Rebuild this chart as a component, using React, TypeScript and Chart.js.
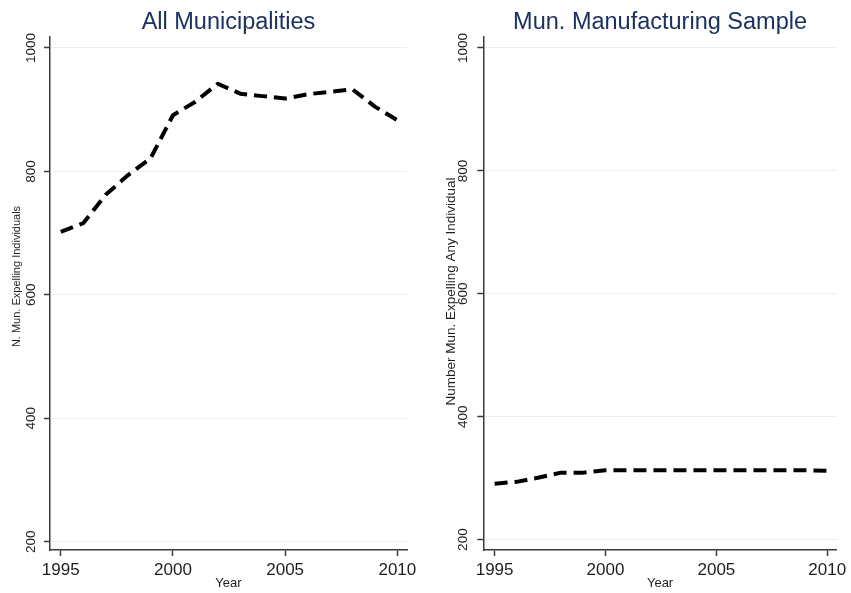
import React, { useEffect, useRef } from "react";
import { Chart, registerables } from "chart.js";

Chart.register(...registerables);

// ---- Data ----
const years = [1995, 1996, 1997, 1998, 1999, 2000, 2001, 2002, 2003, 2004, 2005, 2006, 2007, 2008, 2009, 2010];
const allMunicipalities = [702, 716, 762, 794, 821, 891, 913, 942, 926, 922, 918, 925, 929, 933, 905, 883];
const manufacturingSample = [291, 294, 301, 309, 309, 313, 313, 313, 313, 313, 313, 313, 313, 313, 313, 312];
const xTickValues = [1995, 2000, 2005, 2010];
const yTickValues = [200, 400, 600, 800, 1000];
const panelTitles = ["All Municipalities", "Mun. Manufacturing Sample"];
const yAxisTitles = ["N. Mun. Expelling Individuals", "Number Mun. Expelling Any Individual"];
const xAxisTitle = "Year";

const FONT = '"Liberation Sans", Arial, Helvetica, sans-serif';

// Rotated y-axis title and the panel title, both placed relative to the chart area.
const textPlugin = {
  id: "panelText",
  afterDraw(chart: any, _args: any, opts: any) {
    const ctx = chart.ctx;
    const area = chart.chartArea;
    ctx.save();
    // panel title, centred over the plot area
    ctx.font = `${opts.titleSize}px ${FONT}`;
    ctx.fillStyle = opts.titleColor;
    ctx.textAlign = "center";
    ctx.textBaseline = "alphabetic";
    ctx.fillText(opts.title, (area.left + area.right) / 2, opts.titleBaseline);
    // y axis title
    ctx.translate(opts.yTitleX, opts.yTitleY);
    ctx.rotate(-Math.PI / 2);
    ctx.font = `${opts.yTitleSize}px ${FONT}`;
    ctx.fillStyle = opts.yTitleColor;
    ctx.fillText(opts.yTitle, 0, 0);
    ctx.restore();
  },
};

type PanelProps = {
  title: string;
  yTitle: string;
  values: number[];
  left: number;
  width: number;
  yAxisWidth: number;
  padRight: number;
  yMin: number;
  yMax: number;
  xMin: number;
  xMax: number;
  yTickPad: number;
  yTitleX: number;
  yTitleY: number;
  yTitleSize: number;
};

function Panel(p: PanelProps) {
  const ref = useRef<HTMLCanvasElement | null>(null);
  useEffect(() => {
    if (!ref.current) return;
    const chart = new Chart(ref.current, {
      type: "line",
      data: {
        datasets: [
          {
            data: years.map((y, i) => ({ x: y, y: p.values[i] })),
            borderColor: "#000000",
            borderWidth: 4,
            borderDash: [13, 7],
            borderCapStyle: "butt",
            borderJoinStyle: "round",
            pointRadius: 0,
            tension: 0,
            fill: false,
          },
        ],
      },
      options: {
        animation: false,
        responsive: false,
        maintainAspectRatio: false,
        layout: { padding: { left: 0, right: p.padRight, top: 37, bottom: 0 } },
        plugins: {
          legend: { display: false },
          tooltip: { enabled: false },
          title: { display: false },
          panelText: {
            title: p.title,
            titleSize: 23.5,
            titleColor: "#1b3160",
            titleBaseline: 28.5,
            yTitle: p.yTitle,
            yTitleX: p.yTitleX,
            yTitleY: p.yTitleY,
            yTitleSize: p.yTitleSize,
            yTitleColor: "#1e1e1e",
          },
        } as any,
        scales: {
          x: {
            type: "linear",
            min: p.xMin,
            max: p.xMax,
            afterBuildTicks: (s: any) => {
              s.ticks = xTickValues.map((v) => ({ value: v }));
            },
            afterFit: (s: any) => {
              s.height = 43;
            },
            ticks: {
              color: "#1e1e1e",
              font: { family: FONT, size: 17 },
              padding: 4.5,
              maxRotation: 0,
              minRotation: 0,
              callback: (v: any) => String(v),
            },
            grid: { display: true, drawOnChartArea: false, drawTicks: true, tickLength: 6, tickColor: "#3a3a3a", tickWidth: 1.5 },
            border: { display: true, color: "#3a3a3a", width: 1.5 },
            title: {
              display: true,
              text: xAxisTitle,
              color: "#1e1e1e",
              font: { family: FONT, size: 13 },
              padding: { top: 0, bottom: 2 },
            },
          },
          y: {
            type: "linear",
            min: p.yMin,
            max: p.yMax,
            afterBuildTicks: (s: any) => {
              s.ticks = yTickValues.map((v) => ({ value: v }));
            },
            afterFit: (s: any) => {
              s.width = p.yAxisWidth;
            },
            ticks: {
              color: "#1e1e1e",
              font: { family: FONT, size: 13.5 },
              padding: p.yTickPad,
              minRotation: 90,
              maxRotation: 90,
              crossAlign: "center",
              callback: (v: any) => String(v),
            },
            grid: {
              display: true,
              drawOnChartArea: true,
              drawTicks: true,
              tickLength: 6,
              color: "#e9f0f0",
              lineWidth: 1,
              tickColor: "#3a3a3a",
              tickWidth: 1.5,
            },
            border: { display: true, color: "#3a3a3a", width: 1.5 },
          },
        },
      },
      plugins: [textPlugin],
    } as any);
    return () => chart.destroy();
  }, []);
  return (
    <div style={{ position: "absolute", left: p.left, top: 0, width: p.width, height: 593 }}>
      <canvas ref={ref} width={p.width} height={593} style={{ width: p.width, height: 593, display: "block" }} />
    </div>
  );
}

export default function App() {
  return (
    <div style={{ position: "fixed", left: 0, top: 0, width: 851, height: 593, background: "#ffffff", overflow: "hidden" }}>
      <Panel
        title={panelTitles[0]}
        yTitle={yAxisTitles[0]}
        values={allMunicipalities}
        left={0}
        width={425}
        yAxisWidth={50}
        padRight={18}
        yMin={186.5}
        yMax={1017.8}
        xMin={1994.52}
        xMax={2010.43}
        yTickPad={-2.3}
        yTitleX={20}
        yTitleY={276.5}
        yTitleSize={11}
      />
      <Panel
        title={panelTitles[1]}
        yTitle={yAxisTitles[1]}
        values={manufacturingSample}
        left={425}
        width={426}
        yAxisWidth={58.3}
        padRight={12}
        yMin={183.1}
        yMax={1017.9}
        xMin={1994.49}
        xMax={2010.43}
        yTickPad={-1.1}
        yTitleX={29.7}
        yTitleY={291.5}
        yTitleSize={13.5}
      />
    </div>
  );
}
